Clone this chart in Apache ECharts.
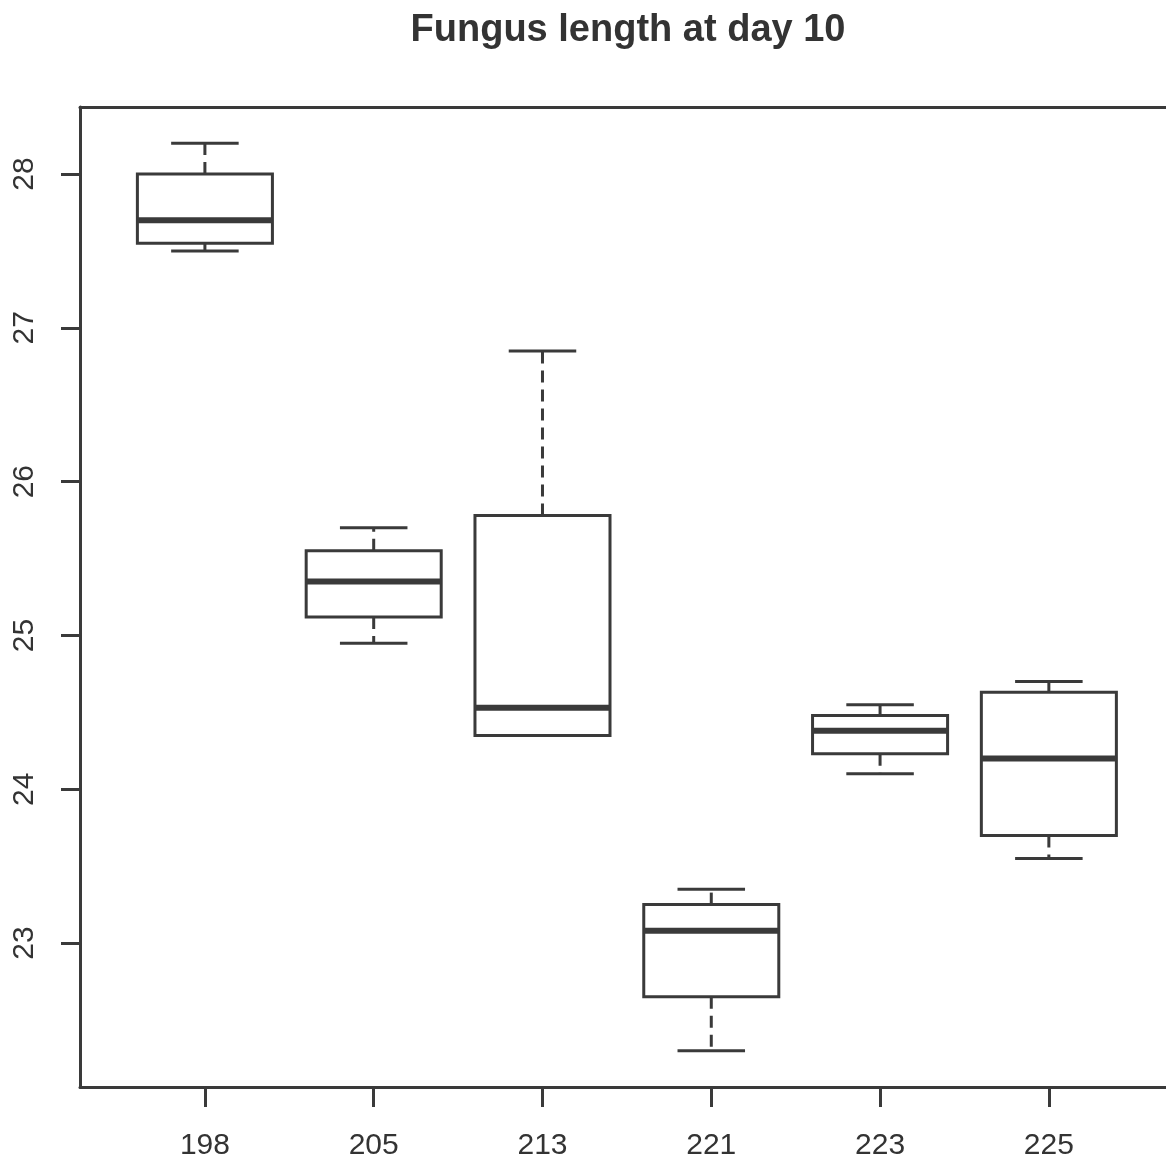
<!DOCTYPE html>
<html>
<head>
<meta charset="utf-8">
<title>Fungus length at day 10</title>
<script src="https://cdn.jsdelivr.net/npm/echarts@6/dist/echarts.min.js"></script>
<style>
html,body{margin:0;padding:0;background:#fff;}
#chart{width:1166px;height:1162px;}
</style>
</head>
<body>
<div id="chart"></div>
<script>
// box statistics, one array per statistic
var categories = ['198', '205', '213', '221', '223', '225'];
var whiskerLow  = [27.50, 24.95, 24.35, 22.30, 24.10, 23.55];
var quart1      = [27.55, 25.12, 24.35, 22.65, 24.23, 23.70];
var medians     = [27.70, 25.35, 24.53, 23.08, 24.38, 24.20];
var quart3      = [28.00, 25.55, 25.78, 23.25, 24.48, 24.63];
var whiskerHigh = [28.20, 25.70, 26.85, 23.35, 24.55, 24.70];
var yTicks = [23, 24, 25, 26, 27, 28];

var lineCol = '#3a3a3a';
var textCol = '#333333';
var fontFam = '"Liberation Sans", Arial, sans-serif';

var boxData = [];
for (var i = 0; i < categories.length; i++) {
	boxData.push([i + 1, whiskerLow[i], quart1[i], medians[i], quart3[i], whiskerHigh[i]]);
}
var xTicks = categories.map(function (c, i) { return i + 1; });

function renderBox(params, api) {
	var x = api.value(0);
	var pLo = api.coord([x, api.value(1)]);
	var pQ1 = api.coord([x, api.value(2)]);
	var pMed = api.coord([x, api.value(3)]);
	var pQ3 = api.coord([x, api.value(4)]);
	var pHi = api.coord([x, api.value(5)]);
	var halfBox = api.size([0.8, 0])[0] / 2;
	var halfCap = api.size([0.4, 0])[0] / 2;
	var cx = pMed[0];
	var solid = {stroke: lineCol, lineWidth: 3, fill: null};
	var dashed = {stroke: lineCol, lineWidth: 3, lineDash: [12, 7], fill: null};
	return {
		type: 'group',
		children: [
			// whiskers (dashed)
			{type: 'line', shape: {x1: cx, y1: pQ3[1], x2: cx, y2: pHi[1]}, style: dashed},
			{type: 'line', shape: {x1: cx, y1: pQ1[1], x2: cx, y2: pLo[1]}, style: dashed},
			// caps
			{type: 'line', shape: {x1: cx - halfCap, y1: pHi[1], x2: cx + halfCap, y2: pHi[1]}, style: solid},
			{type: 'line', shape: {x1: cx - halfCap, y1: pLo[1], x2: cx + halfCap, y2: pLo[1]}, style: solid},
			// box
			{type: 'rect', shape: {x: cx - halfBox, y: pQ3[1], width: halfBox * 2, height: pQ1[1] - pQ3[1]},
				style: {stroke: lineCol, lineWidth: 3, fill: '#fff'}},
			// median
			{type: 'line', shape: {x1: cx - halfBox, y1: pMed[1], x2: cx + halfBox, y2: pMed[1]},
				style: {stroke: lineCol, lineWidth: 6}}
		]
	};
}

var myChart = echarts.init(document.getElementById('chart'));
var option = {
	animation: false,
	backgroundColor: '#fff',
	title: {
		text: 'Fungus length at day 10',
		left: 628,
		top: 12,
		padding: 0,
		textAlign: 'center',
		textStyle: {fontFamily: fontFam, fontSize: 38, fontWeight: 'bold', color: textCol}
	},
	grid: {
		left: 80,
		top: 107,
		right: 0,
		bottom: 75,
		show: false
	},
	xAxis: [{
		type: 'value',
		min: 0.26,
		max: 6.694,
		axisLine: {show: true, lineStyle: {color: lineCol, width: 3}},
		axisTick: {show: true, length: 20, customValues: xTicks, lineStyle: {color: lineCol, width: 3}},
		axisLabel: {
			customValues: xTicks,
			margin: 44,
			fontFamily: fontFam,
			fontSize: 30,
			lineHeight: 30,
			color: textCol,
			formatter: function (v) { return categories[Math.round(v) - 1]; }
		},
		splitLine: {show: false}
	}, {
		// top edge of the frame only
		type: 'value',
		position: 'top',
		min: 0.26,
		max: 6.694,
		axisLine: {show: true, lineStyle: {color: lineCol, width: 3}},
		axisTick: {show: false},
		axisLabel: {show: false},
		splitLine: {show: false}
	}],
	yAxis: {
		type: 'value',
		min: 22.064,
		max: 28.436,
		axisLine: {show: true, lineStyle: {color: lineCol, width: 3}},
		axisTick: {show: true, length: 19, customValues: yTicks, lineStyle: {color: lineCol, width: 3}},
		axisLabel: {
			customValues: yTicks,
			rotate: 90,
			margin: 40,
			fontFamily: fontFam,
			fontSize: 30,
			lineHeight: 30,
			color: textCol
		},
		splitLine: {show: false}
	},
	series: [{
		type: 'custom',
		renderItem: renderBox,
		clip: false,
		xAxisIndex: 0,
		encode: {x: 0, y: [1, 2, 3, 4, 5]},
		data: boxData
	}]
};
myChart.setOption(option);
</script>
</body>
</html>
